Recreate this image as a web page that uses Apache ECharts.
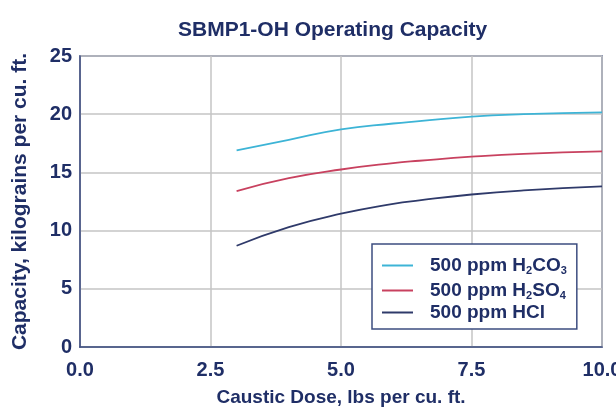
<!DOCTYPE html>
<html>
<head>
<meta charset="utf-8">
<script src="https://cdn.jsdelivr.net/npm/echarts@6/dist/echarts.min.js"></script>
<style>
html,body{margin:0;padding:0;background:#ffffff;}
#c{width:616px;height:408px;}
</style>
</head>
<body>
<div id="c"></div>
<script>
var titleText = 'SBMP1-OH Operating Capacity';
var xName = 'Caustic Dose, lbs per cu. ft.';
var yName = 'Capacity, kilograins per cu. ft.';
var seriesNames = ['500 ppm H2CO3', '500 ppm H2SO4', '500 ppm HCl'];
var legendLabels = ['500 ppm H{sub|2}CO{sub|3}', '500 ppm H{sub|2}SO{sub|4}', '500 ppm HCl'];
var dose = [3, 4, 5, 6, 6.5, 7.5, 8.5, 10];
var h2co3 = [16.9, 17.8, 18.7, 19.2, 19.4, 19.8, 20.0, 20.15];
var h2so4 = [13.4, 14.5, 15.25, 15.8, 16.0, 16.35, 16.6, 16.8];
var hcl = [8.7, 10.3, 11.45, 12.3, 12.6, 13.1, 13.45, 13.8];
var colors = ['#3db4d6', '#c8415f', '#2f3a6a'];
var navy = '#1f2e66';
var font = 'Liberation Sans, Arial, sans-serif';

function pairs(xs, ys) { return xs.map(function (x, i) { return [x, ys[i]]; }); }
var values = [h2co3, h2so4, hcl];

var chart = echarts.init(document.getElementById('c'));
chart.setOption({
  backgroundColor: '#ffffff',
  animation: false,
  title: {
    text: titleText,
    left: 173, top: 15,
    textStyle: { fontFamily: font, fontSize: 21, fontWeight: 'bold', color: navy }
  },
  grid: { left: 80, right: 14, top: 56, bottom: 61, show: true, borderColor: '#3d4d80', borderWidth: 1.5,
    outerBoundsMode: 'none', containLabel: false },
  xAxis: {
    type: 'value', min: 0, max: 10, interval: 2.5,
    name: xName, nameLocation: 'middle', nameGap: 41,
    nameTextStyle: { fontFamily: font, fontSize: 19, fontWeight: 'bold', color: navy },
    axisLine: { show: true, lineStyle: { color: '#3d4d80', width: 1.5 } },
    axisTick: { show: false },
    axisLabel: { margin: 13, fontFamily: font, fontSize: 20, fontWeight: 'bold', color: navy,
      formatter: function (v) { return v.toFixed(1); } },
    splitLine: { show: true, lineStyle: { color: '#c4c4c4', width: 1.5 } }
  },
  yAxis: {
    type: 'value', min: 0, max: 25, interval: 5,
    name: yName, nameLocation: 'middle', nameGap: 49,
    nameTextStyle: { fontFamily: font, fontSize: 21, fontWeight: 'bold', color: navy },
    axisLine: { show: true, lineStyle: { color: '#3d4d80', width: 1.5 } },
    axisTick: { show: false },
    axisLabel: { margin: 8, fontFamily: font, fontSize: 20, fontWeight: 'bold', color: navy },
    splitLine: { show: true, lineStyle: { color: '#c4c4c4', width: 1.5 } }
  },
  legend: {
    orient: 'vertical', left: 372, top: 244,
    data: seriesNames,
    backgroundColor: '#ffffff',
    borderColor: '#3d4d80', borderWidth: 1.5,
    padding: [8, 10, 6, 10],
    itemGap: 1, itemWidth: 31, itemHeight: 2, icon: 'rect',
    formatter: function (name) { return legendLabels[seriesNames.indexOf(name)]; },
    textStyle: {
      fontFamily: font, fontSize: 19, fontWeight: 'bold', color: navy,
      padding: [0, 0, 0, 12], lineHeight: 21,
      rich: {
        sub: { fontFamily: font, fontSize: 11, fontWeight: 'bold', color: navy,
          lineHeight: 8, padding: [13, 0, 0, 0], verticalAlign: 'bottom' }
      }
    }
  },
  series: values.map(function (v, i) {
    return {
      name: seriesNames[i], type: 'line', smooth: true, showSymbol: false,
      data: pairs(dose, v),
      lineStyle: { color: colors[i], width: 1.8 },
      itemStyle: { color: colors[i] }
    };
  })
});
</script>
</body>
</html>
